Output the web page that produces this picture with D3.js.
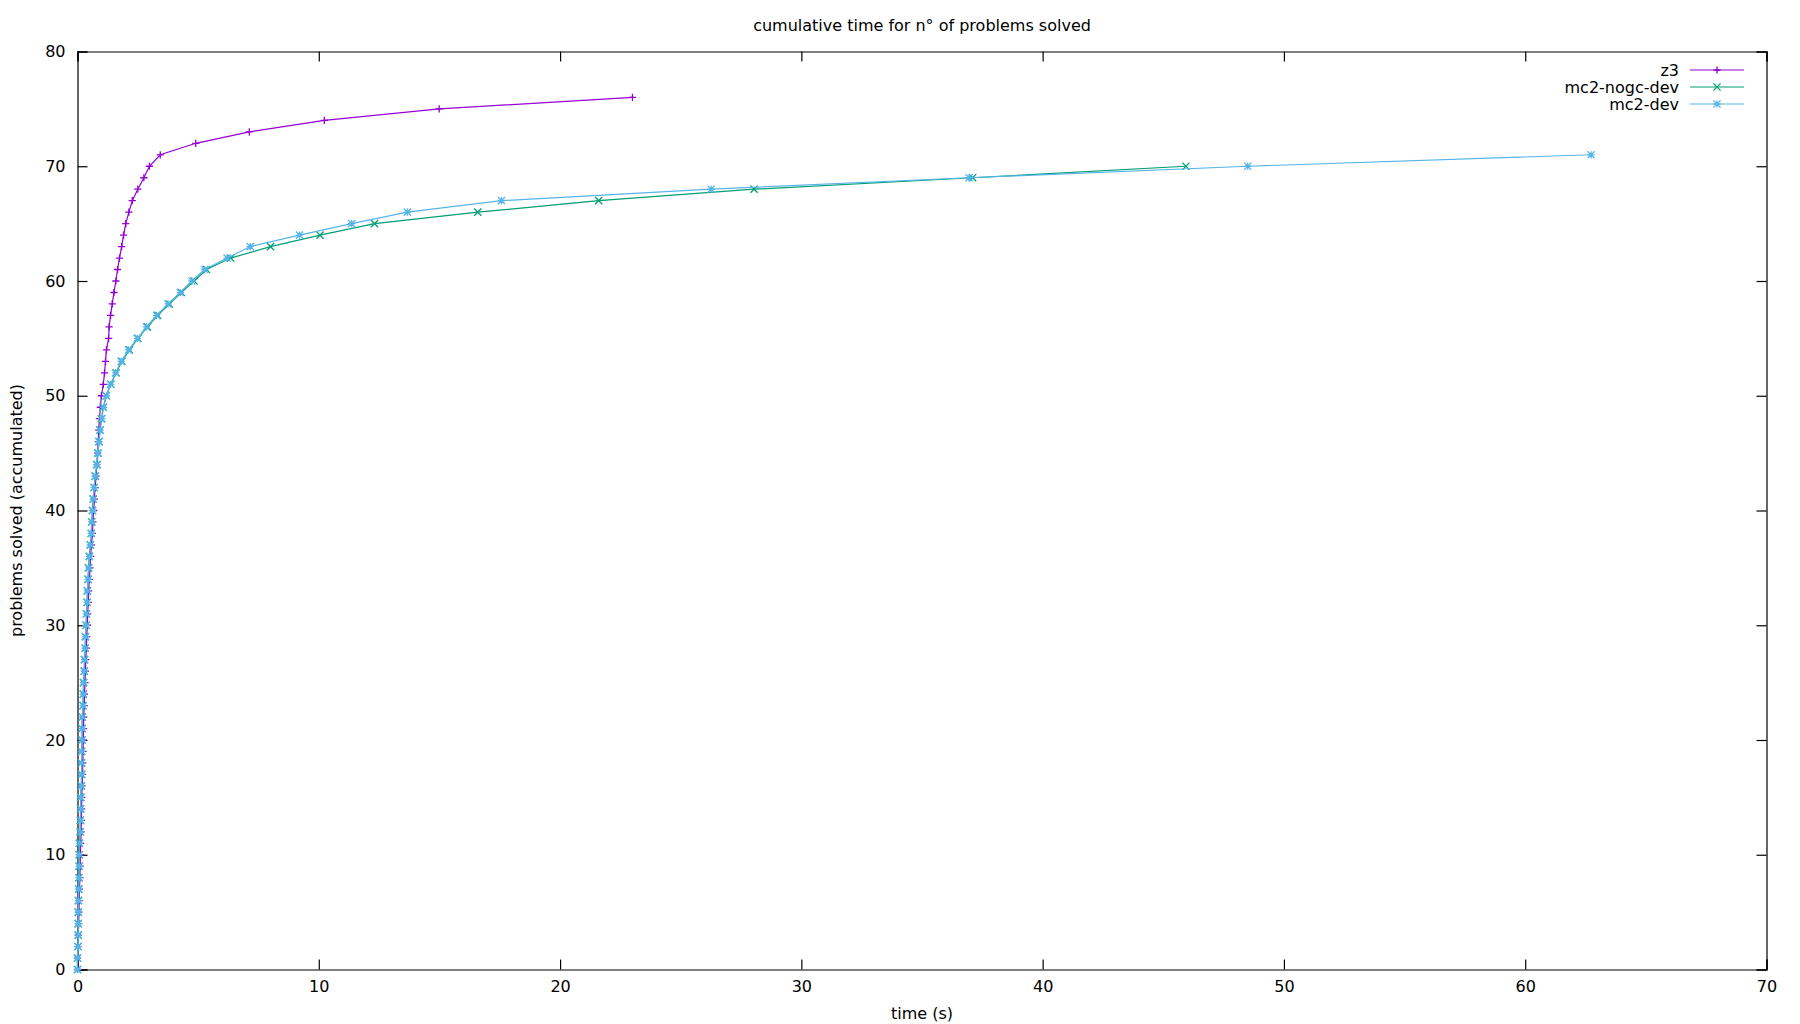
<!DOCTYPE html>
<html>
    <head>
        <title>cumulative time for n° of problems solved</title>
        <script src="https://d3js.org/d3.v7.min.js"></script>
        <style>
            body { margin: 0; background: #fff; }
            text { font-family: "DejaVu Sans", sans-serif; font-size: 16px; fill: #000; }
        </style>
    </head>
    <body>
        <script>
            // cumulative time (s) after each solved problem; index = problems solved
            const z3Times = [0, 0.00, 0.02, 0.03, 0.05, 0.06, 0.07, 0.08, 0.10, 0.11,
                0.12, 0.13, 0.15, 0.16, 0.17, 0.18, 0.19, 0.21, 0.22, 0.23,
                0.24, 0.25, 0.26, 0.28, 0.29, 0.31, 0.33, 0.34, 0.37, 0.38,
                0.41, 0.42, 0.45, 0.46, 0.49, 0.52, 0.54, 0.58, 0.62, 0.64,
                0.67, 0.70, 0.73, 0.77, 0.80, 0.83, 0.86, 0.88, 0.91, 0.95,
                0.99, 1.07, 1.12, 1.16, 1.20, 1.29, 1.31, 1.37, 1.44, 1.51,
                1.59, 1.66, 1.74, 1.83, 1.91, 2.00, 2.13, 2.27, 2.50, 2.75,
                2.98, 3.43, 4.90, 7.12, 10.23, 14.99, 23.00];
            const mc2NogcTimes = [0, 0.00, 0.02, 0.03, 0.03, 0.03, 0.04, 0.05, 0.06, 0.07,
                0.07, 0.08, 0.11, 0.12, 0.13, 0.13, 0.16, 0.17, 0.17, 0.17,
                0.19, 0.19, 0.20, 0.23, 0.24, 0.25, 0.28, 0.29, 0.32, 0.33,
                0.36, 0.37, 0.40, 0.41, 0.44, 0.45, 0.49, 0.53, 0.57, 0.59,
                0.62, 0.65, 0.69, 0.74, 0.81, 0.85, 0.89, 0.93, 0.99, 1.07,
                1.19, 1.38, 1.60, 1.84, 2.15, 2.50, 2.90, 3.32, 3.80, 4.30,
                4.83, 5.35, 6.35, 8.00, 10.05, 12.31, 16.59, 21.60, 28.04, 37.10,
                45.94];
            const mc2DevTimes = [0, 0.00, 0.02, 0.03, 0.03, 0.03, 0.04, 0.05, 0.06, 0.07,
                0.07, 0.08, 0.12, 0.12, 0.13, 0.13, 0.16, 0.17, 0.17, 0.17,
                0.19, 0.19, 0.20, 0.23, 0.24, 0.25, 0.28, 0.29, 0.32, 0.33,
                0.36, 0.37, 0.40, 0.41, 0.44, 0.47, 0.49, 0.53, 0.57, 0.59,
                0.62, 0.65, 0.69, 0.73, 0.79, 0.84, 0.89, 0.94, 1.01, 1.08,
                1.20, 1.37, 1.58, 1.81, 2.12, 2.48, 2.86, 3.28, 3.75, 4.26,
                4.74, 5.27, 6.20, 7.16, 9.20, 11.36, 13.67, 17.57, 26.26, 36.95,
                48.50, 62.73];

            const seriesNames = ["z3", "mc2-nogc-dev", "mc2-dev"];
            const seriesColors = ["#9400d3", "#009e73", "#56b4e9"];
            const seriesSymbols = ["plus", "cross", "star"];
            const seriesTimes = [z3Times, mc2NogcTimes, mc2DevTimes];

            const xTicks = [0, 10, 20, 30, 40, 50, 60, 70];
            const yTicks = [0, 10, 20, 30, 40, 50, 60, 70, 80];

            const WIDTH = 1800;
            const HEIGHT = 1024;
            const margin = {top: 51.5, right: 33.5, bottom: 54.5, left: 77.5};
            const width = WIDTH - margin.left - margin.right;
            const height = HEIGHT - margin.top - margin.bottom;

            const svg = d3.select("body").append("svg")
                .attr("width", WIDTH)
                .attr("height", HEIGHT);

            const xScale = d3.scaleLinear().domain([0, 70]).range([0, width]);
            const yScale = d3.scaleLinear().domain([0, 80]).range([height, 0]);

            const g = svg.append("g")
                .attr("transform", "translate(" + margin.left + "," + margin.top + ")");

            // gnuplot style: ticks point inward, mirrored on top and right
            g.append("g")
                .attr("class", "x-axis")
                .attr("transform", "translate(0," + height + ")")
                .call(d3.axisBottom(xScale).tickValues(xTicks).tickSize(-10).tickPadding(11));
            g.append("g")
                .attr("class", "x-axis-top")
                .call(d3.axisTop(xScale).tickValues(xTicks).tickSize(-10).tickFormat(""));
            g.append("g")
                .attr("class", "y-axis")
                .call(d3.axisLeft(yScale).tickValues(yTicks).tickSize(-10).tickPadding(12));
            g.append("g")
                .attr("class", "y-axis-right")
                .attr("transform", "translate(" + width + ",0)")
                .call(d3.axisRight(yScale).tickValues(yTicks).tickSize(-10).tickFormat(""));

            g.selectAll(".domain").attr("stroke", "#000").attr("stroke-width", 1.2);
            g.selectAll(".tick line").attr("stroke", "#000").attr("stroke-width", 1.2);
            g.selectAll(".tick text")
                .style("font-family", "'DejaVu Sans', sans-serif")
                .style("font-size", "16px")
                .attr("fill", "#000");

            // marker shapes
            function symbolPath(kind, s) {
                if (kind === "plus") return "M" + (-s) + ",0H" + s + "M0," + (-s) + "V" + s;
                if (kind === "cross") return "M" + (-s) + "," + (-s) + "L" + s + "," + s + "M" + (-s) + "," + s + "L" + s + "," + (-s);
                return "M" + (-s) + ",0H" + s + "M0," + (-s) + "V" + s +
                    "M" + (-s) + "," + (-s) + "L" + s + "," + s + "M" + (-s) + "," + s + "L" + s + "," + (-s);
            }

            const line = d3.line()
                .x(d => xScale(d.t))
                .y(d => yScale(d.n));

            seriesTimes.forEach((times, i) => {
                const data = times.map((t, n) => ({t: t, n: n}));
                const sg = g.append("g").attr("class", "series");
                sg.append("path")
                    .datum(data)
                    .attr("d", line)
                    .attr("fill", "none")
                    .attr("stroke", seriesColors[i])
                    .attr("stroke-width", 1.2);
                sg.selectAll(".point")
                    .data(data)
                    .enter()
                    .append("path")
                    .attr("class", "point")
                    .attr("transform", d => "translate(" + xScale(d.t) + "," + yScale(d.n) + ")")
                    .attr("d", symbolPath(seriesSymbols[i], 3.6))
                    .attr("fill", "none")
                    .attr("stroke", seriesColors[i])
                    .attr("stroke-width", 1.3);
            });

            // legend (top right, inside plot)
            const legend = svg.append("g").attr("class", "legend");
            seriesNames.forEach((name, i) => {
                const yy = 70 + i * 17;
                legend.append("text")
                    .attr("x", 1679)
                    .attr("y", yy)
                    .attr("dy", "0.35em")
                    .attr("text-anchor", "end")
                    .text(name);
                legend.append("line")
                    .attr("x1", 1690).attr("x2", 1744)
                    .attr("y1", yy).attr("y2", yy)
                    .attr("stroke", seriesColors[i])
                    .attr("stroke-width", 1.2);
                legend.append("path")
                    .attr("transform", "translate(1717," + yy + ")")
                    .attr("d", symbolPath(seriesSymbols[i], 3.6))
                    .attr("fill", "none")
                    .attr("stroke", seriesColors[i])
                    .attr("stroke-width", 1.3);
            });

            // title and axis labels
            svg.append("text")
                .attr("x", margin.left + width / 2)
                .attr("y", 25)
                .attr("dy", "0.35em")
                .attr("text-anchor", "middle")
                .text("cumulative time for n° of problems solved");
            svg.append("text")
                .attr("x", margin.left + width / 2)
                .attr("y", 1013)
                .attr("dy", "0.35em")
                .attr("text-anchor", "middle")
                .text("time (s)");
            svg.append("text")
                .attr("transform", "translate(16," + (margin.top + height / 2) + ") rotate(-90)")
                .attr("dy", "0.35em")
                .attr("text-anchor", "middle")
                .text("problems solved (accumulated)");
        </script>
    </body>
</html>
